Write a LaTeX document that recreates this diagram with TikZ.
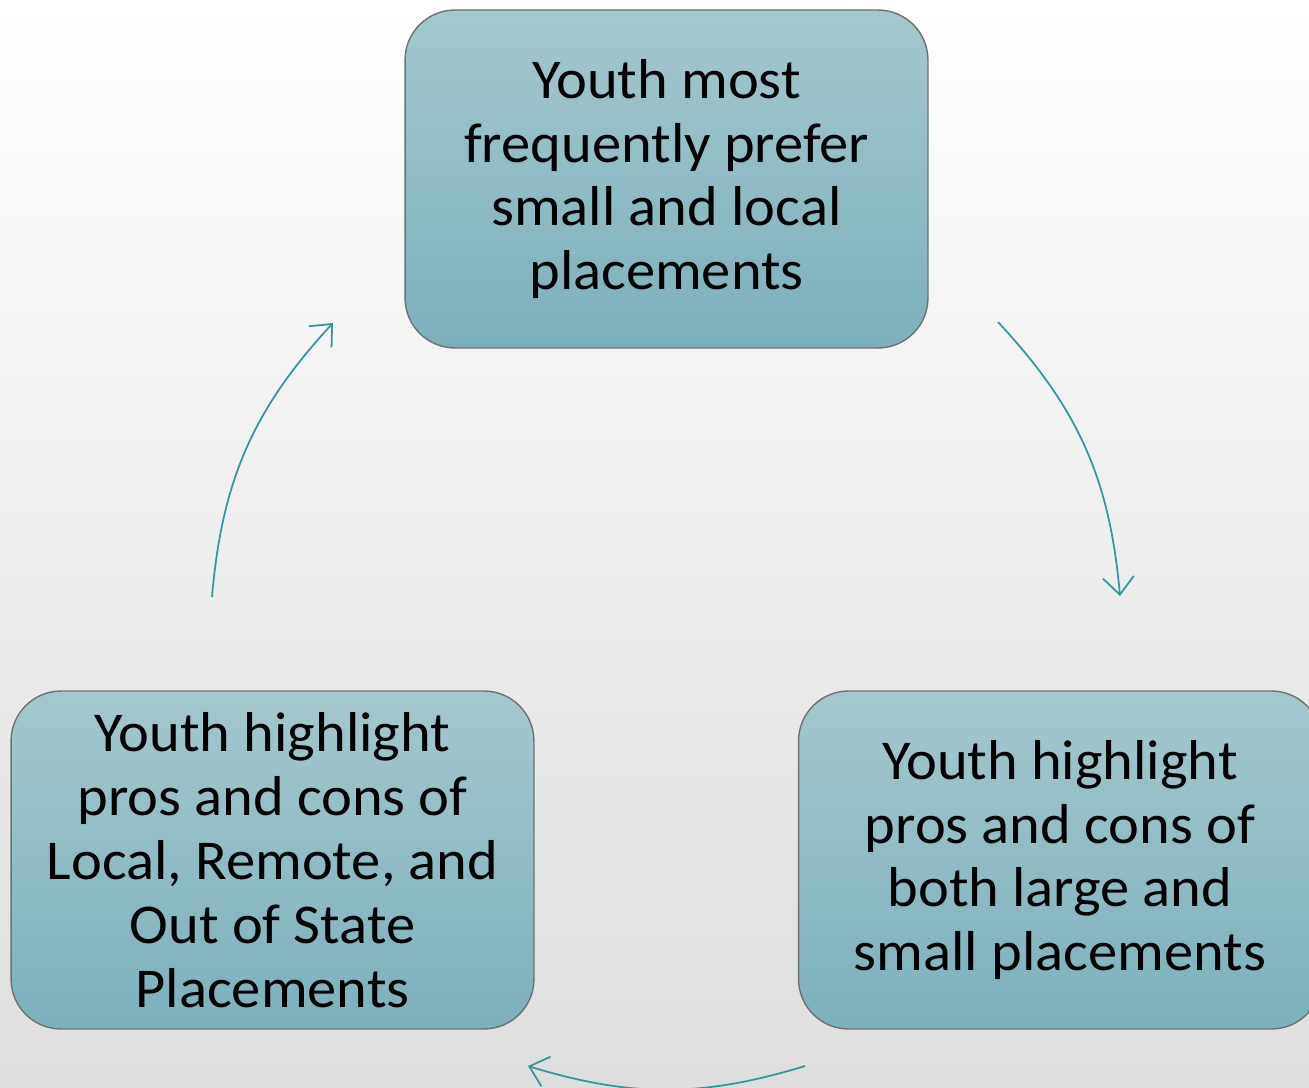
\documentclass[tikz,border=0pt]{standalone}
\usepackage{fontspec}
\setmainfont[FakeStretch=1.04]{Carlito}
\usetikzlibrary{arrows.meta}
\definecolor{boxtop}{RGB}{163,200,205}
\definecolor{boxbot}{RGB}{124,177,188}
\definecolor{boxline}{RGB}{112,112,112}
\definecolor{cyclearrow}{RGB}{52,150,160}

\begin{document}
\begin{tikzpicture}[x=0.02cm,y=-0.02cm]
		\tikzstyle{stage}=[draw=boxline,line width=0.8pt,rounded corners=1cm,
			minimum width=10.46cm,minimum height=6.76cm,align=center,
			top color=boxtop,bottom color=boxbot,
			font=\fontsize{32}{36.4}\selectfont]
		\tikzstyle{cycle arrow}=[draw=cyclearrow,line width=1pt,
			-{Straight Barb[length=0.35cm,width=0.62cm]}]

		% page and background
		\useasboundingbox (0,0) rectangle (1309,1088);
		\shade[top color=white,middle color=black!2,bottom color=black!13]
			(0,0) rectangle (1309,1088);

		% Draw the three stages
		\node[stage] (prefer) at (666.5,179) {Youth most\\frequently prefer\\small and local\\placements};
		\node[stage] (size) at (1060,860) {Youth highlight\\pros and cons of\\both large and\\small placements};
		\node[stage] (distance) at (272.5,860) {Youth highlight\\pros and cons of\\Local, Remote, and\\Out of State\\Placements};

		% Arrow ends
		\coordinate (prefer-out) at (998,322);
		\coordinate (size-in) at (1120,596);
		\coordinate (size-out) at (805,1066);
		\coordinate (distance-in) at (528,1066);
		\coordinate (distance-out) at (212,597);
		\coordinate (prefer-in) at (333,323);

		% Connect the cycle
		\draw[cycle arrow] (prefer-out) to[bend left=19] (size-in);
		\draw[cycle arrow] (size-out) to[bend left=17] (distance-in);
		\draw[cycle arrow] (distance-out) to[bend left=19] (prefer-in);
	\end{tikzpicture}
\end{document}
